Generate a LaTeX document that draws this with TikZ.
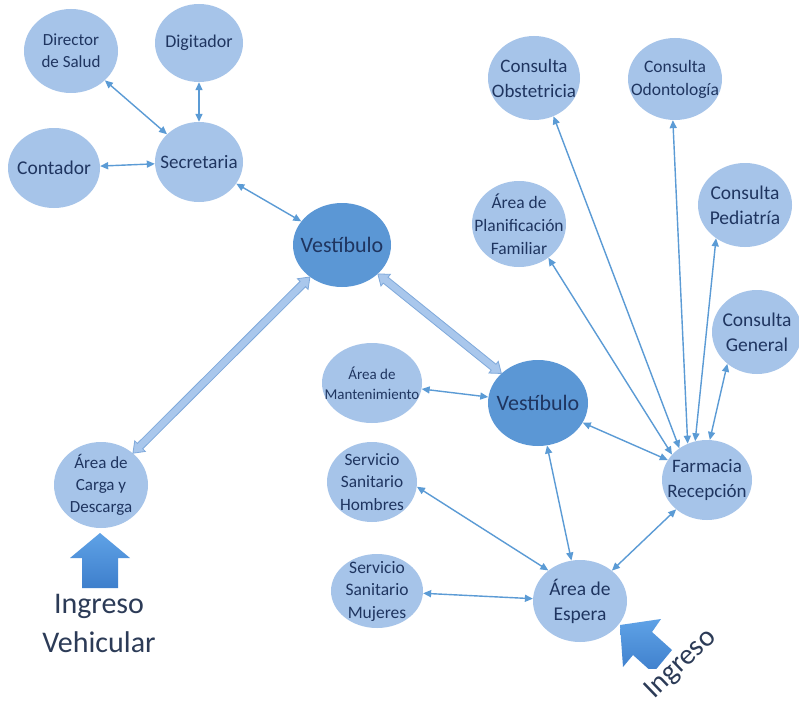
\documentclass[tikz,border=0pt]{standalone}
\usepackage{fontspec}
\setmainfont{Carlito}
\usetikzlibrary{arrows.meta,shapes.geometric,calc}
\definecolor{nodelight}{HTML}{A6C4E9}
\definecolor{nodedark}{HTML}{5B97D5}
\definecolor{navy}{HTML}{1F3560}
\definecolor{linkblue}{HTML}{5B9BD5}
\definecolor{bigfill}{HTML}{A9C7EC}
\definecolor{bigborder}{HTML}{7FA9DB}
\definecolor{arrowtop}{HTML}{5FA2E6}
\definecolor{arrowbot}{HTML}{3E7FCC}
\definecolor{ingtext}{HTML}{2C3B57}
\tikzset{
  room/.style={ellipse, fill=nodelight, draw=none, inner sep=0pt},
  hall/.style={room, fill=nodedark},
  rtext/.style={text=navy, align=center, inner sep=0pt},
  link/.style={draw=linkblue, line width=1.4pt,
    {Triangle[length=8pt,width=7pt]}-{Triangle[length=8pt,width=7pt]}},
  bigline/.style={draw=bigborder, fill=bigfill, line width=0.8pt, line join=miter},
  entrytext/.style={text=ingtext, inner sep=0pt}
}
\newcommand\fsz[2]{\fontsize{#1}{#2}\selectfont}
% thick hollow double arrow between two nodes
\newcommand\bigdbl[2]{%
  \path (#1) -- (#2) coordinate[pos=0] (#1#2A) coordinate[pos=1] (#1#2B);
  \coordinate (#1#2HA) at ($(#1#2A)!10pt!(#1#2B)$);
  \coordinate (#1#2HB) at ($(#1#2B)!10pt!(#1#2A)$);
  \path[bigline] (#1#2A)
    -- ($(#1#2HA)!7.5pt!90:(#1#2B)$) -- ($(#1#2HA)!3.8pt!90:(#1#2B)$)
    -- ($(#1#2HB)!3.8pt!-90:(#1#2A)$) -- ($(#1#2HB)!7.5pt!-90:(#1#2A)$)
    -- (#1#2B)
    -- ($(#1#2HB)!7.5pt!90:(#1#2A)$) -- ($(#1#2HB)!3.8pt!90:(#1#2A)$)
    -- ($(#1#2HA)!3.8pt!-90:(#1#2B)$) -- ($(#1#2HA)!7.5pt!-90:(#1#2B)$)
    -- cycle;}
\begin{document}
\begin{tikzpicture}[x=1pt,y=-1pt]
\useasboundingbox (0,0) rectangle (799,706);
\fill[white] (0,0) rectangle (799,706);

% ---- rooms ----
\node[room, minimum width=94pt, minimum height=84pt,
  label={[rtext, font=\fsz{17}{22}]center:{Director\\de Salud}}] (dir) at (71,51) {};
\node[room, minimum width=88pt, minimum height=78pt,
  label={[rtext, font=\fsz{18}{23}]center:{Digitador}}] (dig) at (199,43) {};
\node[room, minimum width=92pt, minimum height=80pt,
  label={[rtext, font=\fsz{19.5}{25}]center:{Contador}}] (cont) at (54,168) {};
\node[room, minimum width=88pt, minimum height=80pt,
  label={[rtext, font=\fsz{19}{25}]center:{Secretaria}}] (sec) at (199,162) {};
\node[hall, minimum width=98pt, minimum height=84pt,
  label={[rtext, font=\fsz{22}{28}]center:{Vestíbulo}}] (v1) at (342,245) {};

\node[room, minimum width=92pt, minimum height=84pt,
  label={[rtext, font=\fsz{19}{25}]center:{Consulta\\Obstetricia}}] (obs) at (534,78) {};
\node[room, minimum width=94pt, minimum height=82pt,
  label={[rtext, font=\fsz{17.5}{23}]center:{Consulta\\Odontología}}] (odo) at (675,79) {};
\node[room, minimum width=94pt, minimum height=84pt,
  label={[rtext, font=\fsz{19.5}{25}]center:{Consulta\\Pediatría}}] (ped) at (745,205) {};
\node[room, minimum width=94pt, minimum height=86pt,
  label={[rtext, font=\fsz{17.5}{23}]center:{Área de\\Planificación\\Familiar}}] (plan) at (519,224) {};
\node[room, minimum width=90pt, minimum height=84pt,
  label={[rtext, font=\fsz{19.5}{25}]center:{Consulta\\General}}] (gen) at (757,332) {};

\node[room, minimum width=100pt, minimum height=80pt,
  label={[rtext, font=\fsz{15}{20}]center:{Área de\\Mantenimiento}}] (mant) at (372,383) {};
\node[hall, minimum width=100pt, minimum height=86pt,
  label={[rtext, font=\fsz{22}{28}]center:{Vestíbulo}}] (v2) at (538,403) {};
\node[room, minimum width=90pt, minimum height=80pt,
  label={[rtext, font=\fsz{17.3}{22.5}]center:{Servicio\\Sanitario\\Hombres}}] (hom) at (372,482) {};
\node[room, minimum width=92pt, minimum height=74pt,
  label={[rtext, font=\fsz{17.5}{22.5}]center:{Servicio\\Sanitario\\Mujeres}}] (muj) at (377,591) {};
\node[room, minimum width=94pt, minimum height=82pt,
  label={[rtext, font=\fsz{19.5}{25}]center:{Área de\\Espera}}] (esp) at (580,601) {};
\node[room, minimum width=90pt, minimum height=80pt,
  label={[rtext, font=\fsz{19}{25}]center:{Farmacia\\Recepción}}] (farm) at (707,480) {};
\node[room, minimum width=94pt, minimum height=86pt,
  label={[rtext, font=\fsz{17}{22}]center:{Área de\\Carga y\\Descarga}}] (carga) at (101,485) {};

% ---- thin links ----
\draw[link] (dir) -- (sec);
\draw[link] (dig) -- (sec);
\draw[link] (cont) -- (sec);
\draw[link] (sec) -- (v1);
\draw[link] (mant) -- (v2);
\draw[link] (v2) -- (farm.153);
\draw[link] (v2) -- (esp);
\draw[link] (hom.-6) -- (esp.136);
\draw[link] (muj) -- (esp);
\draw[link] (esp) -- (farm);
\draw[link] (farm.144) -- (plan.311);
\draw[link] (farm.131) -- (obs.297);
\draw[link] (farm.118) -- (odo.267);
\draw[link] (farm.107) -- (ped.229);
\draw[link] (farm.86) -- (gen.227);

% ---- thick links ----
\bigdbl{v1}{carga}
\bigdbl{v1}{v2}

% ---- entrance arrows ----
\shade[top color=arrowtop, bottom color=arrowbot]
  (100,533) -- (130,558) -- (118,558) -- (118,588) -- (82,588) -- (82,558) -- (70,558) -- cycle;
\node[entrytext, font=\fsz{30}{38}, anchor=base] (ingv1) at (99,613) {Ingreso};
\node[entrytext, font=\fsz{30}{38}, anchor=base] (ingv2) at (99,652) {Vehicular};

\begin{scope}
  \clip (590,600) rectangle (720,668);
  \shade[top color=arrowtop, bottom color=arrowbot]
    (620,625) -- (661,619) -- (652,632) -- (672,650) -- (653,673)
    -- (633,655) -- (623,667) -- cycle;
\end{scope}
\node[entrytext, font=\fsz{29}{35}, rotate=44] (ingr) at (681,664) {Ingreso};
\end{tikzpicture}
\end{document}
